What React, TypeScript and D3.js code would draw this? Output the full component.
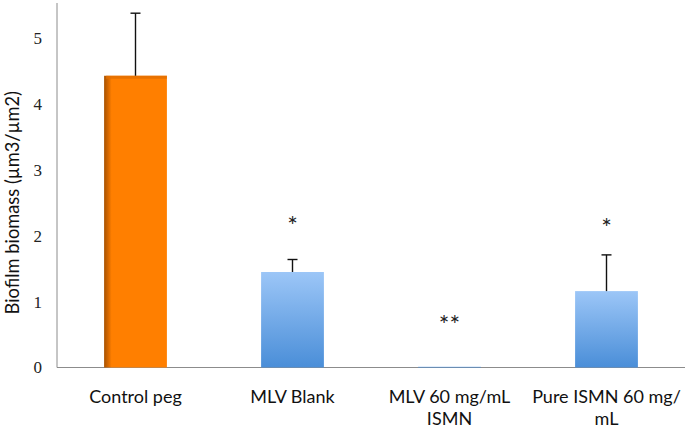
import React from 'react';
import * as d3 from 'd3';

const categories = ['Control peg', 'MLV Blank', 'MLV 60 mg/mL ISMN', 'Pure ISMN 60 mg/mL'];
const labelLines = [['Control peg'], ['MLV Blank'], ['MLV 60 mg/mL', 'ISMN'], ['Pure ISMN 60 mg/', 'mL']];
const means = [4.43, 1.45, 0.01, 1.16];
const errors = [0.95, 0.19, 0, 0.55];
const marks = ['', '*', '**', '*'];
const markLevels = [0, 2.23, 0.72, 2.2];
const yTicks = [0, 1, 2, 3, 4, 5];

const W = 689;
const H = 428;
const margin = { left: 57, right: 4, top: 2, bottom: 60 };

const App: React.FC = () => {
  const x = d3.scaleBand<string>()
    .domain(categories)
    .range([margin.left, W - margin.right])
    .paddingInner(0.6)
    .paddingOuter(0.3);

  const y = d3.scaleLinear()
    .domain([0, 5.55])
    .range([H - margin.bottom - 0.5, margin.top]);

  const base = y(0);
  const bw = x.bandwidth();

  return (
    <svg width={W} height={H} style={{ position: 'absolute', left: 0, top: 0 }}>
      <defs>
        <linearGradient id="orangeH" x1="0" x2="1" y1="0" y2="0">
          <stop offset="0" stopColor="#a85200" />
          <stop offset="0.07" stopColor="#d96a00" />
          <stop offset="0.12" stopColor="#ff7f00" />
          <stop offset="1" stopColor="#ff7f00" />
        </linearGradient>
        <linearGradient id="blueV" x1="0" x2="0" y1="0" y2="1">
          <stop offset="0" stopColor="#9cc6f7" />
          <stop offset="1" stopColor="#4a8ed8" />
        </linearGradient>
      </defs>

      {/* axes */}
      <line x1={margin.left} x2={margin.left} y1={margin.top + 1} y2={base} stroke="#8c8c8c" strokeWidth={1} />
      <line x1={margin.left} x2={W - margin.right} y1={base} y2={base} stroke="#8c8c8c" strokeWidth={1} />

      {yTicks.map(t => (
        <text key={t} x={42} y={y(t)} dy="0.35em" textAnchor="end"
          fontFamily="'Liberation Serif', 'DejaVu Serif', serif" fontSize={17} fill="#222">
          {t}
        </text>
      ))}

      <text transform={`translate(19, ${(margin.top + base) / 2 + 18}) rotate(-90)`}
        textAnchor="middle" fontFamily="Lato, sans-serif" fontSize={18.3} fill="#111">
        Biofilm biomass (µm3/µm2)
      </text>

      {/* bars */}
      {categories.map((c, i) => {
        const x0 = x(c) as number;
        const top = y(means[i]);
        const h = Math.max(base - top, 0.8);
        return (
          <g key={c}>
            <rect x={x0} y={base - h} width={bw} height={h}
              fill={i === 0 ? 'url(#orangeH)' : 'url(#blueV)'} />
            {i === 0 && (
              <rect x={x0 + 2} y={top} width={bw - 2} height={3} fill="#e26f00" opacity={0.8} />
            )}
          </g>
        );
      })}

      {/* error bars */}
      {categories.map((c, i) => {
        if (errors[i] <= 0) return null;
        const cx = (x(c) as number) + bw / 2;
        const y0 = y(means[i]);
        const y1 = y(means[i] + errors[i]);
        return (
          <g key={c} stroke="#111" strokeWidth={1.4}>
            <line x1={cx} x2={cx} y1={y0} y2={y1} />
            <line x1={cx - 5} x2={cx + 5} y1={y1} y2={y1} />
          </g>
        );
      })}

      {/* significance marks */}
      {categories.map((c, i) => marks[i] ? (
        <text key={c} x={(x(c) as number) + bw / 2} y={y(markLevels[i]) + 14}
          textAnchor="middle" fontFamily="Lato, sans-serif" fontSize={25} fill="#222">
          {marks[i]}
        </text>
      ) : null)}

      {/* category labels */}
      {categories.map((c, i) =>
        labelLines[i].map((l, j) => (
          <text key={c + j} x={(x(c) as number) + bw / 2} y={403 + j * 22}
            textAnchor="middle" fontFamily="Lato, sans-serif" fontSize={18} fill="#111">
            {l}
          </text>
        ))
      )}
    </svg>
  );
};

export default App;
